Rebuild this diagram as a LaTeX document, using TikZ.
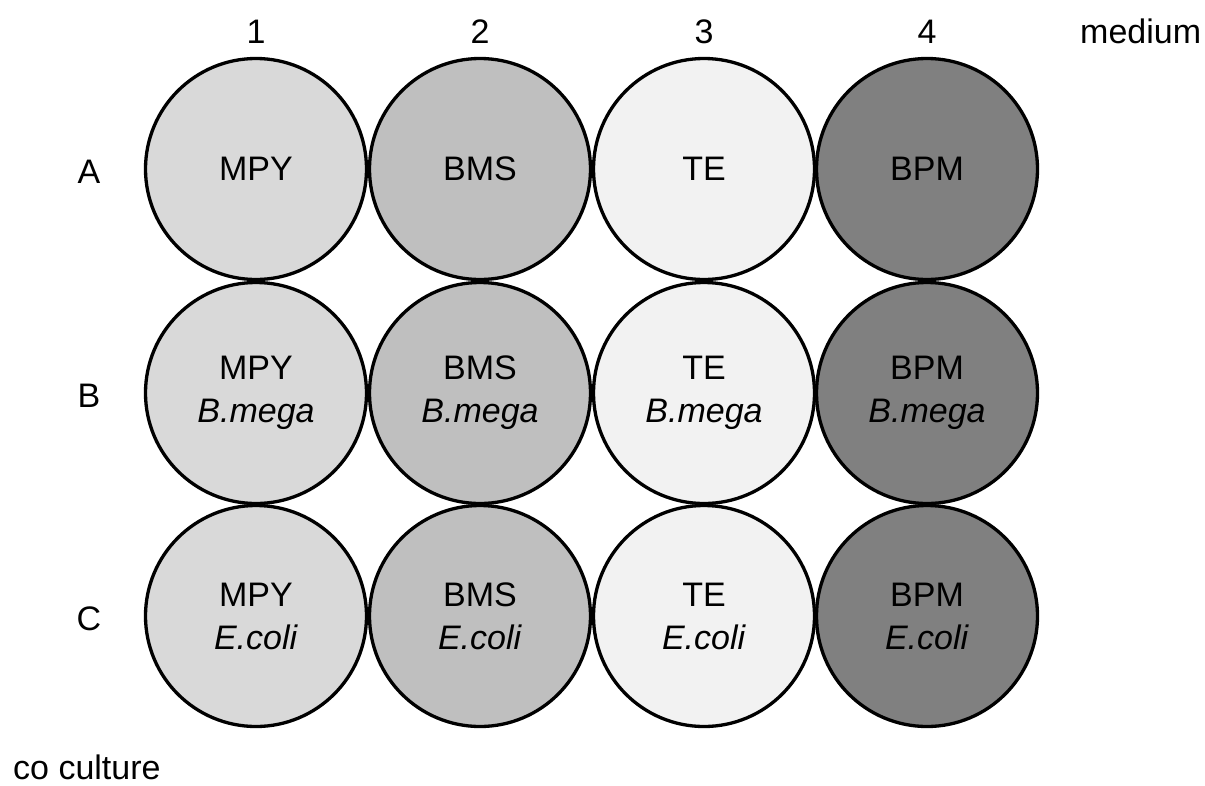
\documentclass[tikz,border=0pt]{standalone}
\usepackage{fontspec}
\setmainfont{Liberation Sans}
\begin{document}
\begin{tikzpicture}[x=1pt,y=-1pt,
  every node/.style={font=\fontsize{34}{43}\selectfont, text=black},
  well/.style={circle, draw=black, line width=3.3pt, minimum size=221pt,
    inner sep=0pt, align=center},
  mpy/.style={well, fill=wellA},
  bms/.style={well, fill=wellB},
  te/.style={well, fill=wellC},
  bpm/.style={well, fill=wellD},
  lbl/.style={anchor=base, inner sep=0pt}]
\definecolor{wellA}{HTML}{D9D9D9}
\definecolor{wellB}{HTML}{BFBFBF}
\definecolor{wellC}{HTML}{F2F2F2}
\definecolor{wellD}{HTML}{808080}
\useasboundingbox (0,0) rectangle (1205,785);

% column headers
\node[lbl] (c1) at (256,43) {1};
\node[lbl] (c2) at (480,43) {2};
\node[lbl] (c3) at (704,43) {3};
\node[lbl] (c4) at (927,43) {4};
\node[lbl, anchor=base west] (medium) at (1080,43) {medium};

% row headers
\node[lbl] (rA) at (89,183) {A};
\node[lbl] (rB) at (89,407) {B};
\node[lbl] (rC) at (89,630) {C};

% row A: media only
\node[mpy] (a1) at (256,169) {MPY};
\node[bms] (a2) at (480,169) {BMS};
\node[te]  (a3) at (704,169) {TE};
\node[bpm] (a4) at (927,169) {BPM};

% row B: media with B. megaterium
\node[mpy] (b1) at (256,393) {MPY\\\textit{B.mega}};
\node[bms] (b2) at (480,393) {BMS\\\textit{B.mega}};
\node[te]  (b3) at (704,393) {TE\\\textit{B.mega}};
\node[bpm] (b4) at (927,393) {BPM\\\textit{B.mega}};

% row C: media with E. coli
\node[mpy] (k1) at (256,616) {MPY\\\textit{E.coli}};
\node[bms] (k2) at (480,616) {BMS\\\textit{E.coli}};
\node[te]  (k3) at (704,616) {TE\\\textit{E.coli}};
\node[bpm] (k4) at (927,616) {BPM\\\textit{E.coli}};

\node[lbl, anchor=base west] (cocult) at (13,779) {co culture};
\end{tikzpicture}
\end{document}
